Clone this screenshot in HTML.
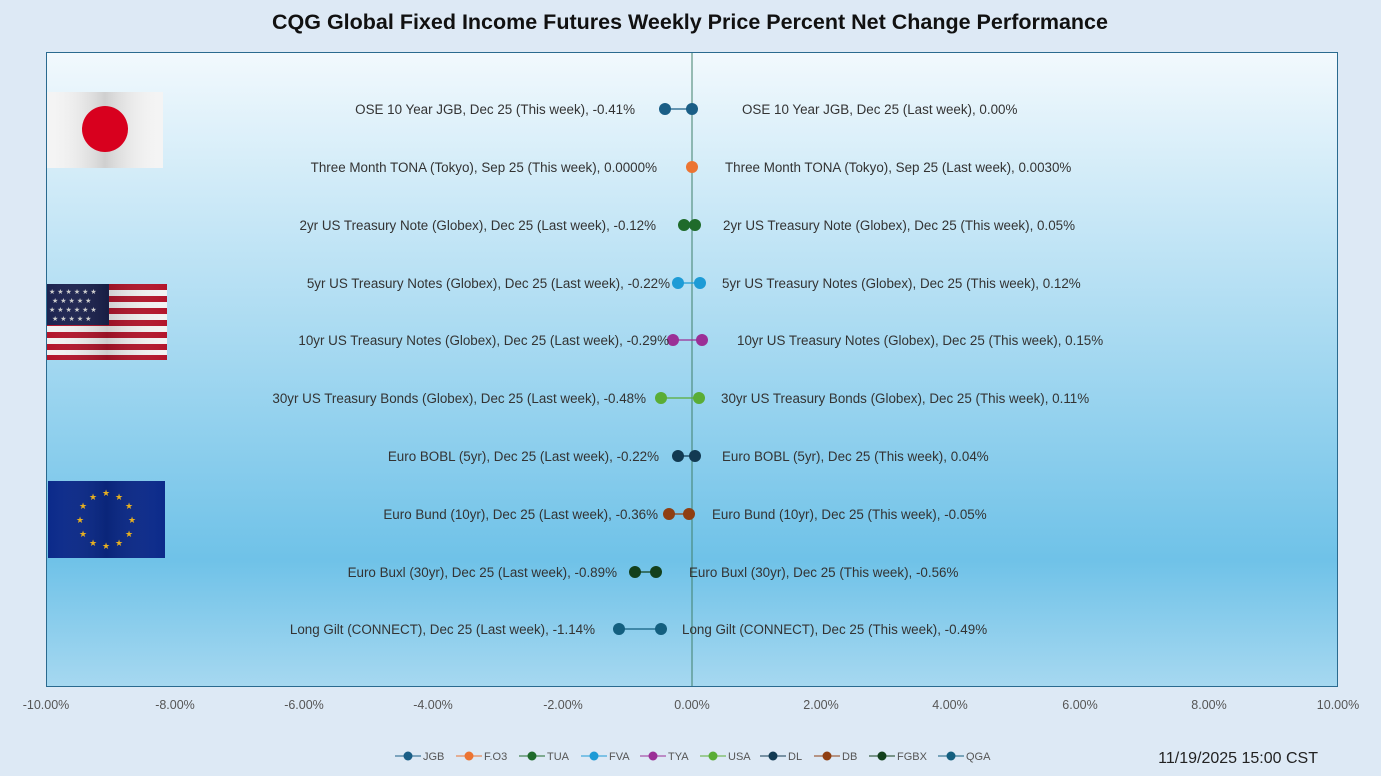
<!DOCTYPE html>
<html><head><meta charset="utf-8"><style>
body{margin:0;background:#dce9f5;}
svg{display:block;font-family:"Liberation Sans",sans-serif;}
</style></head><body>
<svg width="1381" height="776" viewBox="0 0 1381 776">
<defs>
<linearGradient id="bg" x1="0" y1="0" x2="0" y2="1">
<stop offset="0" stop-color="#f2f9fd"/>
<stop offset="0.35" stop-color="#b9e1f4"/>
<stop offset="0.8" stop-color="#6fc2e8"/>
<stop offset="1" stop-color="#a6d8f0"/>
</linearGradient>
<linearGradient id="wave" x1="0" y1="0" x2="1" y2="0">
<stop offset="0" stop-color="#fff" stop-opacity="0"/>
<stop offset="0.5" stop-color="#000" stop-opacity="0.15"/>
<stop offset="1" stop-color="#fff" stop-opacity="0"/>
</linearGradient>
</defs>
<rect width="1381" height="776" fill="#dde9f5"/>
<text x="690" y="29" text-anchor="middle" font-size="21.5" font-weight="bold" fill="#111">CQG Global Fixed Income Futures Weekly Price Percent Net Change Performance</text>
<rect x="46.5" y="52.5" width="1291" height="634" fill="url(#bg)" stroke="#2a6a8f" stroke-width="1"/>
<line x1="692" y1="53" x2="692" y2="686" stroke="#3f7f6a" stroke-width="1"/>

<rect x="47" y="92" width="116" height="76" fill="#f4f4f4"/>
<rect x="47" y="92" width="116" height="76" fill="url(#wave)"/>
<circle cx="105" cy="129" r="23" fill="#d8001e"/>
<g>
<rect x="47" y="284" width="120" height="76" fill="#f2f2f2"/>
<g fill="#b3152b">
<rect x="47" y="284" width="120" height="6"/><rect x="47" y="296" width="120" height="6"/><rect x="47" y="308" width="120" height="6"/><rect x="47" y="320" width="120" height="6"/><rect x="47" y="332" width="120" height="6"/><rect x="47" y="344" width="120" height="6"/><rect x="47" y="355" width="120" height="5"/>
</g>
<rect x="47" y="284" width="62" height="41" fill="#1c2350"/>
<rect x="47" y="284" width="120" height="76" fill="url(#wave)"/>
<text x="49" y="294" font-size="7" fill="#ccc" letter-spacing="2">★★★★★★</text>
<text x="52" y="303" font-size="7" fill="#ccc" letter-spacing="2">★★★★★</text>
<text x="49" y="312" font-size="7" fill="#ccc" letter-spacing="2">★★★★★★</text>
<text x="52" y="321" font-size="7" fill="#ccc" letter-spacing="2">★★★★★</text>
</g>
<rect x="48" y="481" width="117" height="77" fill="#0b2a8a"/>
<rect x="48" y="481" width="117" height="77" fill="url(#wave)" opacity="0.8"/>
<g fill="#e8b020" font-size="9" text-anchor="middle">
<text x="106" y="496">★</text><text x="119" y="500">★</text><text x="129" y="509">★</text><text x="132" y="523">★</text><text x="129" y="537">★</text><text x="119" y="546">★</text><text x="106" y="549">★</text><text x="93" y="546">★</text><text x="83" y="537">★</text><text x="80" y="523">★</text><text x="83" y="509">★</text><text x="93" y="500">★</text>
</g>

<g font-size="13.4" fill="#333">
<line x1="665" y1="109" x2="692" y2="109" stroke="#1a5e86" stroke-width="1.2"/>
<circle cx="665" cy="109" r="6" fill="#1a5e86"/><circle cx="692" cy="109" r="6" fill="#1a5e86"/>
<text x="635" y="114" text-anchor="end">OSE 10 Year JGB, Dec 25 (This week), -0.41%</text>
<text x="742" y="114">OSE 10 Year JGB, Dec 25 (Last week), 0.00%</text>

<circle cx="692" cy="167" r="6" fill="#ec7432"/>
<text x="657" y="172" text-anchor="end">Three Month TONA (Tokyo), Sep 25 (This week), 0.0000%</text>
<text x="725" y="172">Three Month TONA (Tokyo), Sep 25 (Last week), 0.0030%</text>

<line x1="684" y1="225" x2="695" y2="225" stroke="#1f6b2b" stroke-width="1.2"/>
<circle cx="684" cy="225" r="6" fill="#1f6b2b"/><circle cx="695" cy="225" r="6" fill="#1f6b2b"/>
<text x="656" y="230" text-anchor="end">2yr US Treasury Note (Globex), Dec 25 (Last week), -0.12%</text>
<text x="723" y="230">2yr US Treasury Note (Globex), Dec 25 (This week), 0.05%</text>

<line x1="678" y1="283" x2="700" y2="283" stroke="#1d9bd6" stroke-width="1.2"/>
<circle cx="678" cy="283" r="6" fill="#1d9bd6"/><circle cx="700" cy="283" r="6" fill="#1d9bd6"/>
<text x="670" y="288" text-anchor="end">5yr US Treasury Notes (Globex), Dec 25 (Last week), -0.22%</text>
<text x="722" y="288">5yr US Treasury Notes (Globex), Dec 25 (This week), 0.12%</text>

<line x1="673" y1="340" x2="702" y2="340" stroke="#9b2f96" stroke-width="1.2"/>
<circle cx="673" cy="340" r="6" fill="#9b2f96"/><circle cx="702" cy="340" r="6" fill="#9b2f96"/>
<text x="669" y="345" text-anchor="end">10yr US Treasury Notes (Globex), Dec 25 (Last week), -0.29%</text>
<text x="737" y="345">10yr US Treasury Notes (Globex), Dec 25 (This week), 0.15%</text>

<line x1="661" y1="398" x2="699" y2="398" stroke="#5aad35" stroke-width="1.2"/>
<circle cx="661" cy="398" r="6" fill="#5aad35"/><circle cx="699" cy="398" r="6" fill="#5aad35"/>
<text x="646" y="403" text-anchor="end">30yr US Treasury Bonds (Globex), Dec 25 (Last week), -0.48%</text>
<text x="721" y="403">30yr US Treasury Bonds (Globex), Dec 25 (This week), 0.11%</text>

<line x1="678" y1="456" x2="695" y2="456" stroke="#123a52" stroke-width="1.2"/>
<circle cx="678" cy="456" r="6" fill="#123a52"/><circle cx="695" cy="456" r="6" fill="#123a52"/>
<text x="659" y="461" text-anchor="end">Euro BOBL (5yr), Dec 25 (Last week), -0.22%</text>
<text x="722" y="461">Euro BOBL (5yr), Dec 25 (This week), 0.04%</text>

<line x1="669" y1="514" x2="689" y2="514" stroke="#8f3f12" stroke-width="1.2"/>
<circle cx="669" cy="514" r="6" fill="#8f3f12"/><circle cx="689" cy="514" r="6" fill="#8f3f12"/>
<text x="658" y="519" text-anchor="end">Euro Bund (10yr), Dec 25 (Last week), -0.36%</text>
<text x="712" y="519">Euro Bund (10yr), Dec 25 (This week), -0.05%</text>

<line x1="635" y1="572" x2="656" y2="572" stroke="#13401c" stroke-width="1.2"/>
<circle cx="635" cy="572" r="6" fill="#13401c"/><circle cx="656" cy="572" r="6" fill="#13401c"/>
<text x="617" y="577" text-anchor="end">Euro Buxl (30yr), Dec 25 (Last week), -0.89%</text>
<text x="689" y="577">Euro Buxl (30yr), Dec 25 (This week), -0.56%</text>

<line x1="619" y1="629" x2="661" y2="629" stroke="#135f7f" stroke-width="1.2"/>
<circle cx="619" cy="629" r="6" fill="#135f7f"/><circle cx="661" cy="629" r="6" fill="#135f7f"/>
<text x="595" y="634" text-anchor="end">Long Gilt (CONNECT), Dec 25 (Last week), -1.14%</text>
<text x="682" y="634">Long Gilt (CONNECT), Dec 25 (This week), -0.49%</text>
</g>

<g font-size="12.5" fill="#555" text-anchor="middle">
<text x="46" y="709">-10.00%</text><text x="175" y="709">-8.00%</text><text x="304" y="709">-6.00%</text><text x="433" y="709">-4.00%</text><text x="563" y="709">-2.00%</text><text x="692" y="709">0.00%</text><text x="821" y="709">2.00%</text><text x="950" y="709">4.00%</text><text x="1080" y="709">6.00%</text><text x="1209" y="709">8.00%</text><text x="1338" y="709">10.00%</text>
</g>

<g font-size="11" fill="#555">
<g><line x1="395" y1="756" x2="421" y2="756" stroke="#1a5e86"/><circle cx="408" cy="756" r="4.5" fill="#1a5e86"/><text x="423" y="760">JGB</text></g>
<g><line x1="456" y1="756" x2="482" y2="756" stroke="#ec7432"/><circle cx="469" cy="756" r="4.5" fill="#ec7432"/><text x="484" y="760">F.O3</text></g>
<g><line x1="519" y1="756" x2="545" y2="756" stroke="#1f6b2b"/><circle cx="532" cy="756" r="4.5" fill="#1f6b2b"/><text x="547" y="760">TUA</text></g>
<g><line x1="581" y1="756" x2="607" y2="756" stroke="#1d9bd6"/><circle cx="594" cy="756" r="4.5" fill="#1d9bd6"/><text x="609" y="760">FVA</text></g>
<g><line x1="640" y1="756" x2="666" y2="756" stroke="#9b2f96"/><circle cx="653" cy="756" r="4.5" fill="#9b2f96"/><text x="668" y="760">TYA</text></g>
<g><line x1="700" y1="756" x2="726" y2="756" stroke="#5aad35"/><circle cx="713" cy="756" r="4.5" fill="#5aad35"/><text x="728" y="760">USA</text></g>
<g><line x1="760" y1="756" x2="786" y2="756" stroke="#123a52"/><circle cx="773" cy="756" r="4.5" fill="#123a52"/><text x="788" y="760">DL</text></g>
<g><line x1="814" y1="756" x2="840" y2="756" stroke="#8f3f12"/><circle cx="827" cy="756" r="4.5" fill="#8f3f12"/><text x="842" y="760">DB</text></g>
<g><line x1="869" y1="756" x2="895" y2="756" stroke="#13401c"/><circle cx="882" cy="756" r="4.5" fill="#13401c"/><text x="897" y="760">FGBX</text></g>
<g><line x1="938" y1="756" x2="964" y2="756" stroke="#135f7f"/><circle cx="951" cy="756" r="4.5" fill="#135f7f"/><text x="966" y="760">QGA</text></g>
</g>
<text x="1318" y="763" text-anchor="end" font-size="16" fill="#222">11/19/2025 15:00 CST</text>
</svg>
</body></html>
